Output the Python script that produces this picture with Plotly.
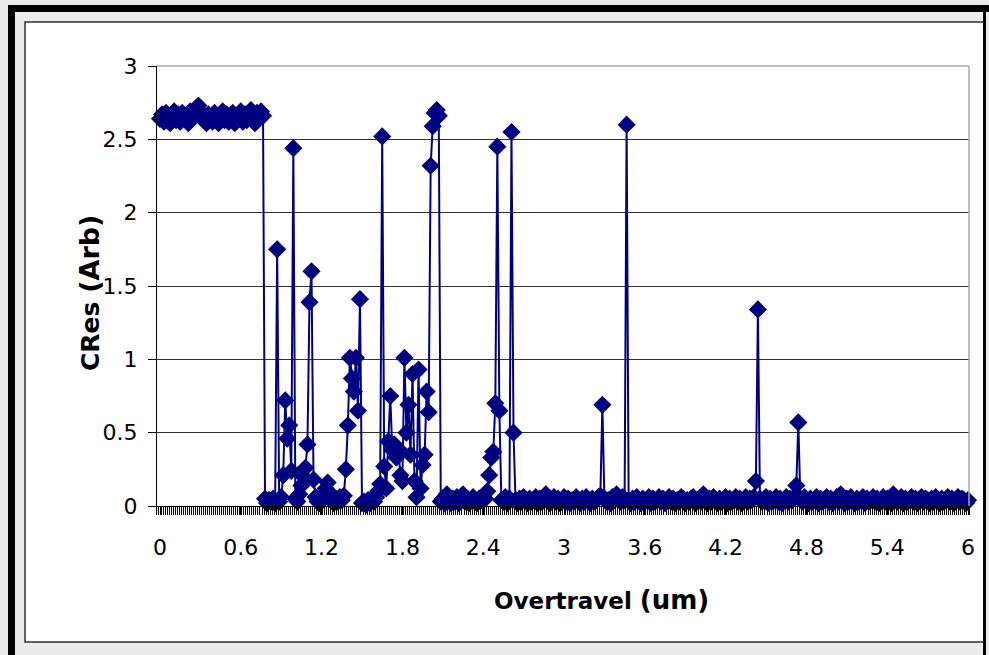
import plotly.graph_objects as go

# ---------------- data ----------------
STEP = 0.015  # category spacing of the overtravel axis (um)

cres_flat = [
    2.64, 2.67, 2.62, 2.68, 2.65, 2.61, 2.66, 2.69, 2.63, 2.67,
    2.62, 2.68, 2.64, 2.66, 2.61, 2.69, 2.65, 2.67, 2.70, 2.73,
    2.69, 2.64, 2.66, 2.61, 2.67, 2.64, 2.62, 2.68, 2.65, 2.61,
    2.66, 2.69, 2.63, 2.67, 2.62, 2.65, 2.68, 2.61, 2.66, 2.64,
    2.69, 2.62, 2.67, 2.63, 2.66, 2.70, 2.64, 2.61, 2.68, 2.65, 2.69, 2.66,
]

cres_spiky = [
    0.05, 0.02, 0.04, 0.03, 0.05, 0.02, 1.75, 0.03,
    0.06, 0.21, 0.72, 0.46, 0.55, 0.24, 2.44,
    0.05, 0.03, 0.08, 0.14, 0.20, 0.26, 0.42, 1.39, 1.60,
    0.18, 0.06, 0.03, 0.02, 0.05, 0.08, 0.12, 0.16, 0.09, 0.04, 0.02, 0.05, 0.03, 0.06, 0.04, 0.07,
    0.25, 0.55, 1.01, 0.87, 0.78, 1.01, 0.65, 1.41, 0.02,
    0.03, 0.01, 0.04, 0.02, 0.05, 0.03, 0.06, 0.10, 0.15,
    2.52,
    0.27, 0.12, 0.44, 0.75, 0.38, 0.42, 0.33, 0.39, 0.21, 0.17,
    1.01, 0.50, 0.69, 0.35, 0.90, 0.17, 0.06, 0.93, 0.12, 0.28, 0.35, 0.78, 0.64,
    2.32, 2.59, 2.68, 2.70, 2.66,
]

cres_tail = [
    0.03, 0.05, 0.02, 0.08, 0.04, 0.02, 0.05, 0.03, 0.06, 0.02, 0.04,
    0.08, 0.03, 0.05, 0.02, 0.04, 0.06, 0.03, 0.02, 0.05, 0.04, 0.06,
    0.05,
    0.10, 0.21, 0.33, 0.37, 0.70, 2.45, 0.65, 0.04,
    0.03, 0.06, 0.02, 0.05,
    2.55, 0.50, 0.04,
    0.02, 0.05, 0.03, 0.06, 0.04, 0.02, 0.05, 0.03, 0.04, 0.06,
    0.02, 0.05, 0.03, 0.04, 0.08, 0.05, 0.02, 0.04, 0.06, 0.03,
    0.05, 0.02, 0.04, 0.06, 0.03, 0.05, 0.02, 0.04, 0.03, 0.06,
    0.04, 0.02, 0.05, 0.03, 0.06, 0.04, 0.02, 0.05, 0.03, 0.04,
    0.06, 0.07,
    0.69,
    0.05, 0.03, 0.04, 0.02, 0.06, 0.04, 0.08, 0.05, 0.03, 0.06, 0.04,
    2.60,
    0.04, 0.02, 0.05, 0.03, 0.06, 0.04, 0.02, 0.05, 0.03, 0.04,
    0.06, 0.02, 0.05, 0.03, 0.04, 0.06, 0.03, 0.05, 0.02, 0.04,
    0.06, 0.03, 0.05, 0.02, 0.04, 0.03, 0.06, 0.05, 0.02, 0.04,
    0.03, 0.05, 0.06, 0.02, 0.04, 0.05, 0.03, 0.08, 0.04, 0.02,
    0.05, 0.03, 0.06, 0.04, 0.02, 0.05, 0.03, 0.04, 0.06, 0.02,
    0.05, 0.03, 0.04, 0.06, 0.03, 0.05, 0.02, 0.04, 0.06, 0.03,
    0.05, 0.04, 0.06,
    0.17, 1.34,
    0.05, 0.03, 0.04, 0.06, 0.02, 0.05, 0.03, 0.04, 0.06, 0.03,
    0.05, 0.02, 0.04, 0.06, 0.03, 0.05, 0.04, 0.06,
    0.14, 0.57,
    0.05, 0.03, 0.06, 0.04, 0.02, 0.05, 0.03, 0.04, 0.06, 0.02,
    0.05, 0.03, 0.04, 0.06, 0.03, 0.05, 0.02, 0.04, 0.06, 0.03,
    0.08, 0.04, 0.02, 0.05, 0.03, 0.06, 0.04, 0.02, 0.05, 0.03,
    0.04, 0.06, 0.02, 0.05, 0.03, 0.04, 0.06, 0.03, 0.05, 0.02,
    0.04, 0.06, 0.03, 0.05, 0.04, 0.02, 0.08, 0.05, 0.03, 0.04,
    0.06, 0.02, 0.05, 0.03, 0.04, 0.06, 0.03, 0.05, 0.02, 0.04,
    0.06, 0.03, 0.05, 0.04, 0.02, 0.05, 0.03, 0.06, 0.04, 0.02,
    0.05, 0.03, 0.04, 0.06, 0.03, 0.05, 0.02, 0.04, 0.06, 0.03,
    0.05, 0.04, 0.02, 0.04,
]

cres = cres_flat + cres_spiky + cres_tail
overtravel = [round(i * STEP, 3) for i in range(len(cres))]

x_tick_values = [0, 0.6, 1.2, 1.8, 2.4, 3.0, 3.6, 4.2, 4.8, 5.4, 6.0]
x_tick_labels = ["0", "0.6", "1.2", "1.8", "2.4", "3", "3.6", "4.2", "4.8", "5.4", "6"]
y_tick_values = [0, 0.5, 1, 1.5, 2, 2.5, 3]
y_tick_labels = ["0", "0.5", "1", "1.5", "2", "2.5", "3"]

# ---------------- layout geometry (pixels) ----------------
W, H = 989, 655
PL, PR, PT, PB = 157, 969, 66, 506   # plot area edges


def X(px):
    return (px - PL) / (PR - PL)


def Y(py):
    return (PB - py) / (PB - PT)


NAVY = "#000080"
FONT = "DejaVu Sans"

fig = go.Figure()
fig.add_trace(go.Scatter(
    x=overtravel, y=cres, mode="lines+markers",
    line=dict(color=NAVY, width=2),
    marker=dict(symbol="diamond", size=14, color=NAVY, line=dict(width=0)),
    cliponaxis=False, showlegend=False,
))

shapes = [
    # white chart area with thin dark border
    dict(type="rect", xref="paper", yref="paper", layer="below",
         x0=X(25), x1=X(984), y0=Y(642), y1=Y(22),
         fillcolor="white", line=dict(color="#303030", width=1.5)),
    # thick black outer frame (left, top, right)
    dict(type="rect", xref="paper", yref="paper", layer="below",
         x0=X(8), x1=X(15), y0=Y(700), y1=Y(5),
         fillcolor="black", line=dict(width=0)),
    dict(type="rect", xref="paper", yref="paper", layer="below",
         x0=X(8), x1=X(1000), y0=Y(12), y1=Y(5),
         fillcolor="black", line=dict(width=0)),
    dict(type="rect", xref="paper", yref="paper", layer="below",
         x0=X(983), x1=X(986), y0=Y(700), y1=Y(5),
         fillcolor="black", line=dict(width=0)),
    # plot-area border (top and right, grey)
    dict(type="line", xref="paper", yref="paper", layer="above",
         x0=0, x1=1, y0=1, y1=1, line=dict(color="#a8a8a8", width=1.5)),
    dict(type="line", xref="paper", yref="paper", layer="above",
         x0=1, x1=1, y0=0, y1=1, line=dict(color="#a8a8a8", width=1.5)),
]

x_per_px = 6.0 / (968 - 160)
x0 = -(160 - PL) * x_per_px
x1 = x0 + (PR - PL) * x_per_px

fig.update_layout(
    width=W, height=H,
    margin=dict(l=PL, r=W - PR, t=PT, b=H - PB, pad=0),
    paper_bgcolor="#ebebeb", plot_bgcolor="white",
    font=dict(family=FONT, color="black", size=22),
    shapes=shapes,
    xaxis=dict(
        range=[x0, x1], tickvals=x_tick_values, ticktext=x_tick_labels,
        showgrid=False, zeroline=False,
        showline=True, linecolor="black", linewidth=1,
        ticks="outside", ticklen=8, tickcolor="black", tickwidth=1,
        tickfont=dict(family=FONT, size=22, color="black"),
        ticklabelstandoff=14,
        minor=dict(ticks="outside", ticklen=8, tickcolor="black", tickwidth=1,
                   tick0=-STEP / 2, dtick=STEP, showgrid=False),
    ),
    yaxis=dict(
        range=[0, 3], tickvals=y_tick_values, ticktext=y_tick_labels,
        showgrid=True, gridcolor="#333333", gridwidth=1, zeroline=False,
        showline=True, linecolor="black", linewidth=1,
        ticks="outside", ticklen=8, tickcolor="black", tickwidth=1,
        tickfont=dict(family=FONT, size=22, color="black"),
        ticklabelstandoff=6,
    ),
    annotations=[
        dict(text="<b>CRes <span style='font-size:27px'>(Arb)</span></b>", textangle=-90,
             xref="paper", yref="paper",
             x=X(89), y=Y(293), xanchor="center", yanchor="middle", showarrow=False,
             font=dict(family=FONT, size=25, color="black")),
        dict(text="<b>Overtravel <span style='font-size:26px'>(um)</span></b>",
             xref="paper", yref="paper", x=X(601), y=Y(600),
             xanchor="center", yanchor="middle", showarrow=False,
             font=dict(family=FONT, size=23, color="black")),
    ],
)

fig.write_html("out.html", config={"displayModeBar": False},
               post_script="document.body.style.margin='0';document.body.style.overflow='hidden';")
